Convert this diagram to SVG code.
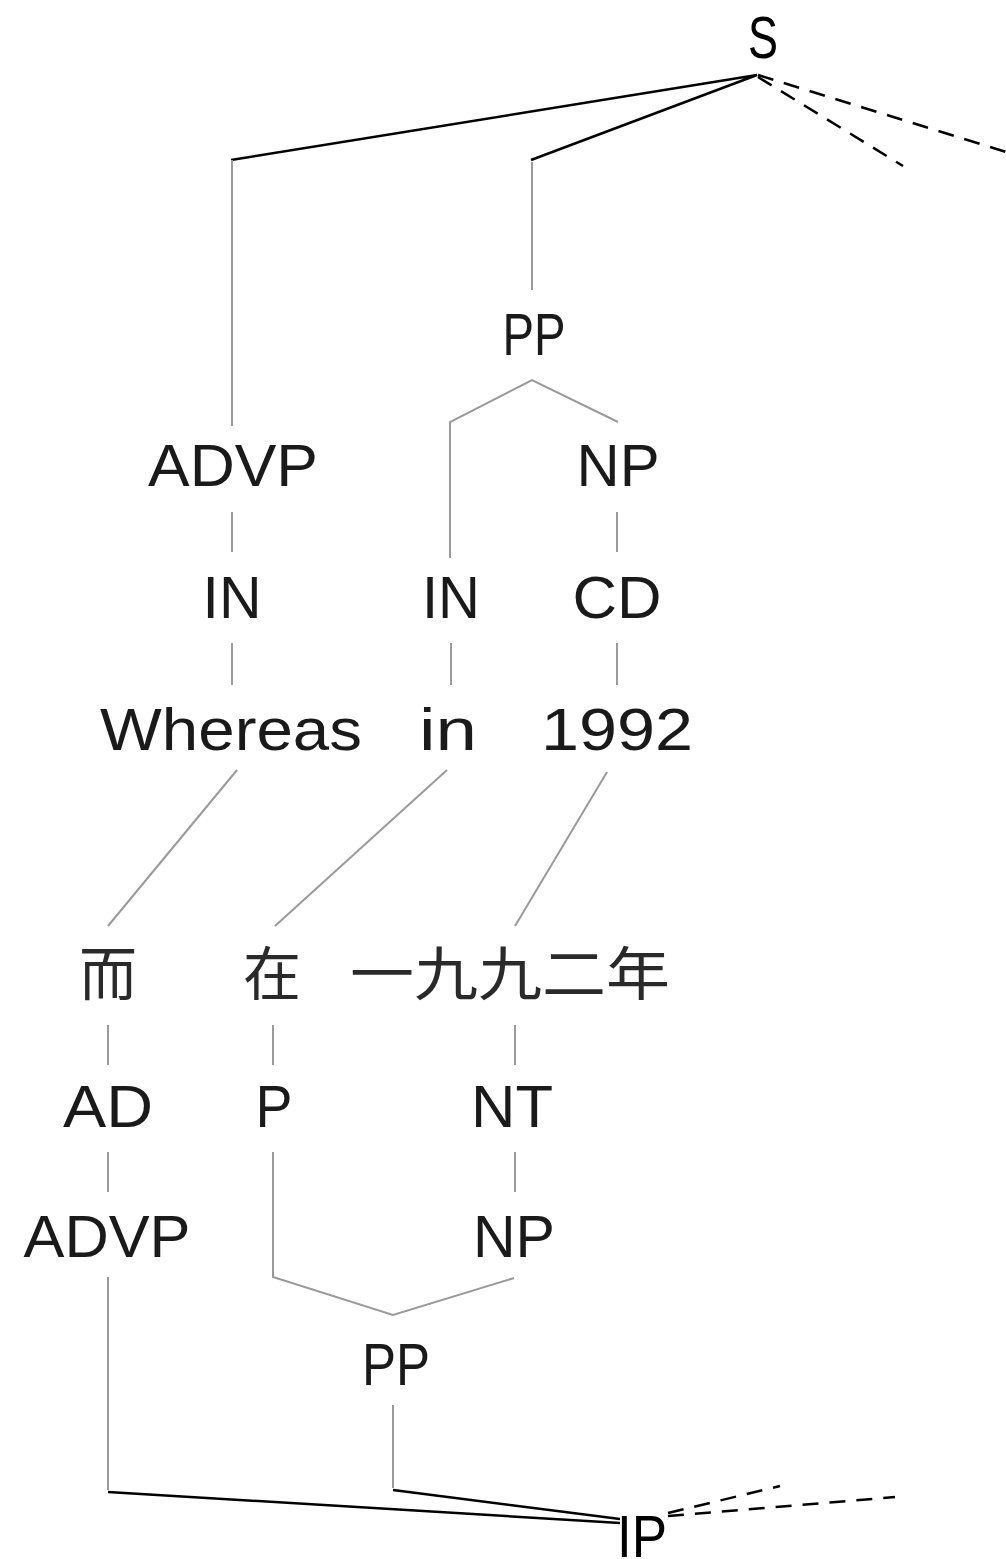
<svg xmlns="http://www.w3.org/2000/svg" width="1006" height="1559" viewBox="0 0 1006 1559">
<style>
.t{font-family:"Liberation Sans","DejaVu Sans",sans-serif;font-size:60px;fill:#1a1a1a;text-anchor:middle}
.c{font-family:"Noto Sans CJK SC",sans-serif;font-size:58px;fill:#2a2a2a;text-anchor:middle}
.r{font-family:"Liberation Sans","DejaVu Sans",sans-serif;font-size:60px;fill:#000;text-anchor:middle}
.g{stroke:#9a9a9a;stroke-width:2;fill:none}
.k{stroke:#000;stroke-width:2.5;fill:none}
.d{stroke:#000;stroke-width:2.5;fill:none;stroke-dasharray:16,11}
</style>
<rect width="1006" height="1559" fill="#fff"/>
<g id="connectors">
<polyline class="k" points="231,160 757,75 531,160"/>
<line class="d" x1="758" y1="75" x2="1006" y2="152"/>
<line class="d" x1="758" y1="77" x2="903" y2="166"/>
<line class="g" x1="232" y1="160" x2="232" y2="426"/>
<line class="g" x1="532" y1="162" x2="532" y2="290"/>
<polyline class="g" points="450,558 450,422 532,380 618,422"/>
<line class="g" x1="232" y1="512" x2="232" y2="552"/>
<line class="g" x1="617" y1="512" x2="617" y2="552"/>
<line class="g" x1="232" y1="643" x2="232" y2="685"/>
<line class="g" x1="451" y1="643" x2="451" y2="685"/>
<line class="g" x1="617" y1="643" x2="617" y2="685"/>
<line class="g" x1="237" y1="770" x2="108" y2="926"/>
<line class="g" x1="447" y1="770" x2="275" y2="926"/>
<line class="g" x1="607" y1="772" x2="515" y2="926"/>
<line class="g" x1="108" y1="1025" x2="108" y2="1065"/>
<line class="g" x1="273" y1="1025" x2="273" y2="1065"/>
<line class="g" x1="515" y1="1025" x2="515" y2="1065"/>
<line class="g" x1="108" y1="1152" x2="108" y2="1192"/>
<line class="g" x1="515" y1="1152" x2="515" y2="1192"/>
<polyline class="g" points="273,1152 273,1277 393,1315 514,1278"/>
<line class="g" x1="108" y1="1277" x2="108" y2="1490"/>
<line class="g" x1="393" y1="1405" x2="393" y2="1488"/>
<line class="k" x1="108" y1="1492" x2="620" y2="1523"/>
<line class="k" x1="393" y1="1490" x2="620" y2="1519"/>
<line class="d" x1="668" y1="1513" x2="780" y2="1486"/>
<line class="d" x1="668" y1="1516" x2="895" y2="1497"/>
</g>
<g id="S"><text class="r" x="763" y="58" textLength="30" lengthAdjust="spacingAndGlyphs">S</text></g>
<g id="PP1"><text class="t" x="534" y="355" textLength="63" lengthAdjust="spacingAndGlyphs">PP</text></g>
<g id="ADVP1"><text class="t" x="233" y="486" textLength="170" lengthAdjust="spacingAndGlyphs">ADVP</text></g>
<g id="NP1"><text class="t" x="618" y="486" textLength="83" lengthAdjust="spacingAndGlyphs">NP</text></g>
<g id="IN1"><text class="t" x="232" y="618" textLength="59" lengthAdjust="spacingAndGlyphs">IN</text></g>
<g id="IN2"><text class="t" x="451" y="618" textLength="58" lengthAdjust="spacingAndGlyphs">IN</text></g>
<g id="CD"><text class="t" x="617" y="618" textLength="89" lengthAdjust="spacingAndGlyphs">CD</text></g>
<g id="Whereas"><text class="t" x="231" y="750" textLength="262" lengthAdjust="spacingAndGlyphs">Whereas</text></g>
<g id="in"><text class="t" x="448" y="750" textLength="58" lengthAdjust="spacingAndGlyphs">in</text></g>
<g id="y1992"><text class="t" x="617" y="750" textLength="152" lengthAdjust="spacingAndGlyphs">1992</text></g>
<g id="er"><text class="c" x="108" y="995">而</text></g>
<g id="zai"><text class="c" x="272" y="995">在</text></g>
<g id="nian"><text class="c" x="510" y="995" textLength="320" lengthAdjust="spacingAndGlyphs">一九九二年</text></g>
<g id="AD"><text class="t" x="108" y="1127" textLength="90" lengthAdjust="spacingAndGlyphs">AD</text></g>
<g id="P"><text class="t" x="274" y="1127" textLength="37" lengthAdjust="spacingAndGlyphs">P</text></g>
<g id="NT"><text class="t" x="512" y="1127" textLength="82" lengthAdjust="spacingAndGlyphs">NT</text></g>
<g id="ADVP2"><text class="t" x="107" y="1257" textLength="167" lengthAdjust="spacingAndGlyphs">ADVP</text></g>
<g id="NP2"><text class="t" x="514" y="1257" textLength="82" lengthAdjust="spacingAndGlyphs">NP</text></g>
<g id="PP2"><text class="t" x="396" y="1385" textLength="68" lengthAdjust="spacingAndGlyphs">PP</text></g>
<g id="IP"><text class="r" x="642" y="1557" textLength="50" lengthAdjust="spacingAndGlyphs">IP</text></g>
</svg>
